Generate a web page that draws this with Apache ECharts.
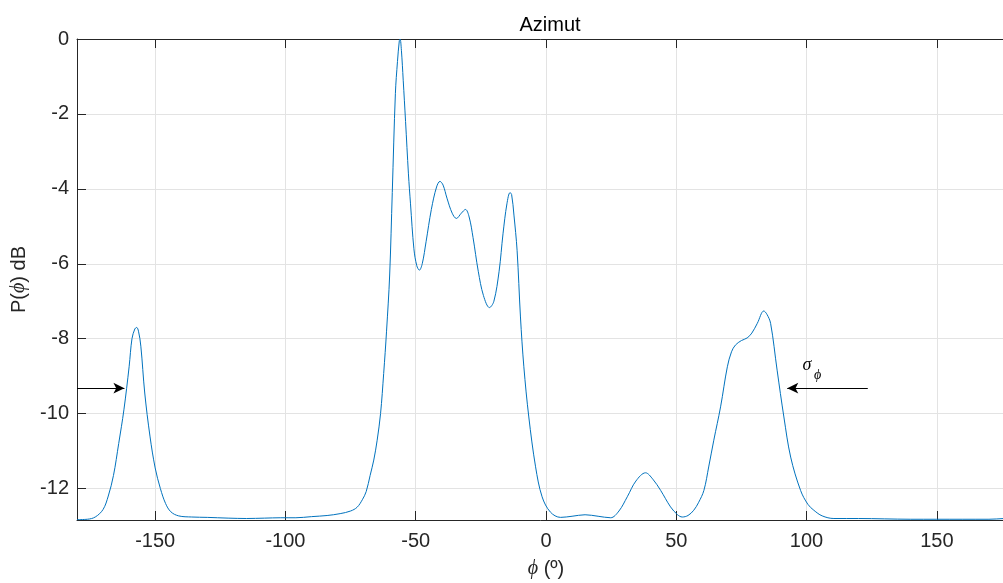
<!DOCTYPE html>
<html>
<head>
<meta charset="utf-8">
<script src="https://cdn.jsdelivr.net/npm/echarts@6/dist/echarts.min.js"></script>
<style>
  html, body { margin: 0; padding: 0; background: #fff; }
  #chart { width: 1003px; height: 583px; }
</style>
</head>
<body>
<div id="chart"></div>
<script>
// azimuth (deg) and power (dB)
var phi = [
  -180, -176, -173, -170, -168, -166, -164, -162, -160, -158.9, -157.8, -157.1, -156.4, -155.5,
  -154, -152, -150, -148, -146, -144, -141, -136, -130, -122, -115, -108, -102, -96, -90, -84,
  -79, -75, -72.5, -70.5, -69, -67.5, -66.1, -64.8, -63.5, -62.3, -61.2, -60, -59, -57.8, -57,
  -56.3, -56, -55.5, -54.8, -53.9, -52.8, -52, -50.7, -49.6, -48.6, -47.5, -46, -44, -42, -40.7,
  -39.5, -38, -36, -34.4, -32.5, -30.9, -29.5, -28, -26, -24, -21.7, -20, -18, -16.5, -15, -13.8,
  -13.2, -12.3, -11.1, -9.8, -8.5, -6.6, -4, -1.5, 1.7, 5.6, 10, 15, 20, 24.8, 28, 31.2, 34.5,
  38.2, 41, 44, 47.8, 50.5, 52.3, 54.5, 56.7, 58.5, 60.6, 62.5, 64.4, 67, 69.6, 71.2, 72.7, 75,
  77.2, 79, 81.1, 83.6, 84.8, 86.2, 88.7, 91.3, 93.9, 97.7, 100.5, 102.8, 106, 110.5, 120, 130,
  140, 150, 160, 170, 176, 180
];
var power = [
  -12.83, -12.82, -12.76, -12.56, -12.2, -11.65, -10.8, -9.9, -8.75, -8.0, -7.74, -7.70, -7.8, -8.2,
  -9.45, -10.6, -11.45, -12.0, -12.4, -12.62, -12.73, -12.76, -12.77, -12.79, -12.8, -12.79, -12.78, -12.78, -12.75, -12.72,
  -12.67, -12.6, -12.5, -12.3, -12.08, -11.65, -11.24, -10.71, -10.0, -8.93, -7.8, -6.3, -4.1, -1.45, -0.6,
  -0.05, 0, -0.3, -1.1, -2.2, -3.6, -4.4, -5.6, -6.05, -6.17, -6.0, -5.4, -4.55, -3.95, -3.8,
  -3.9, -4.25, -4.65, -4.79, -4.65, -4.55, -4.75, -5.3, -6.2, -6.85, -7.17, -7.0, -6.2, -5.2, -4.4, -4.1,
  -4.15, -4.7, -5.64, -7.42, -8.75, -10.09, -11.42, -12.22, -12.63, -12.77, -12.74, -12.7, -12.74, -12.78, -12.6, -12.22, -11.8,
  -11.58, -11.75, -12.05, -12.49, -12.7, -12.76, -12.72, -12.58, -12.38, -12.05, -11.4, -10.71, -9.82, -8.75, -8.35, -8.17, -8.05,
  -7.98, -7.85, -7.59, -7.26, -7.35, -7.59, -8.84, -10.09, -11.16, -12.05, -12.42, -12.58, -12.73, -12.8, -12.8, -12.81,
  -12.82, -12.82, -12.82, -12.82, -12.8, -12.79
];

var xTicks = [-150, -100, -50, 0, 50, 100, 150];
var yTicks = [0, -2, -4, -6, -8, -10, -12];

// spread arrows (sigma_phi) at the -9.32 dB level
var arrowLeft = [[-180, -9.32], [-161.8, -9.32]];
var arrowRight = [[123.5, -9.32], [92.6, -9.32]];
var sigmaPos = [100.1, -8.72];
var sigmaSubPos = [104.2, -8.99];

var chart = echarts.init(document.getElementById('chart'));

var axisColor = '#262626';
var gridColor = '#e3e3e3';
var serif = '"Liberation Serif", "DejaVu Serif", serif';
var sans = '"Liberation Sans", Arial, sans-serif';

var option = {
  animation: false,
  backgroundColor: '#fff',
  title: {
    text: 'Azimut',
    left: 545,
    top: 10,
    textAlign: 'center',
    textStyle: { fontFamily: sans, fontSize: 20, fontWeight: 'normal', color: '#000' }
  },
  // the axes box runs past the right edge of the picture (clipped, like the original)
  grid: { left: 77, top: 39, right: -12, bottom: 63, containLabel: false, outerBoundsMode: 'none' },
  xAxis: [
    {
      type: 'value',
      min: -180,
      max: 180,
      splitNumber: 7,
      name: '{i|ϕ} (º)',
      nameLocation: 'middle',
      nameGap: 39,
      nameTextStyle: {
        fontFamily: sans, fontSize: 20, color: axisColor, verticalAlign: 'top',
        rich: { i: { fontFamily: serif, fontStyle: 'italic', fontSize: 20, color: axisColor } }
      },
      axisLine: { show: true, onZero: false, lineStyle: { color: axisColor, width: 1 } },
      axisTick: { show: true, inside: true, length: 9, lineStyle: { color: axisColor } },
      axisLabel: {
        margin: 11,
        fontFamily: sans, fontSize: 20, color: axisColor,
        formatter: function (v) { return xTicks.indexOf(v) >= 0 ? String(v) : ''; }
      },
      splitLine: { show: true, lineStyle: { color: gridColor, width: 1 } }
    },
    {
      type: 'value',
      position: 'top',
      min: -180,
      max: 180,
      splitNumber: 7,
      axisLine: { show: true, onZero: false, lineStyle: { color: axisColor, width: 1 } },
      axisTick: { show: true, inside: true, length: 9, lineStyle: { color: axisColor } },
      axisLabel: { show: false },
      splitLine: { show: false }
    }
  ],
  yAxis: {
    type: 'value',
    min: -12.84,
    max: 0,
    splitNumber: 6,
    name: 'P({i|ϕ}) dB',
    nameLocation: 'middle',
    nameGap: 43,
    nameRotate: 90,
    nameTextStyle: {
      fontFamily: sans, fontSize: 20, color: axisColor,
      rich: { i: { fontFamily: serif, fontStyle: 'italic', fontSize: 20, color: axisColor } }
    },
    axisLine: { show: true, onZero: false, lineStyle: { color: axisColor, width: 1 } },
    axisTick: { show: true, inside: true, length: 9, lineStyle: { color: axisColor } },
    axisLabel: {
      margin: 8,
      fontFamily: sans, fontSize: 20, color: axisColor,
      formatter: function (v) { return yTicks.indexOf(v) >= 0 ? String(v) : ''; }
    },
    splitLine: { show: true, lineStyle: { color: gridColor, width: 1 } }
  },
  series: [
    {
      type: 'line',
      data: phi.map(function (x, i) { return [x, power[i]]; }),
      showSymbol: false,
      smooth: 0.35,
      lineStyle: { color: '#0072BD', width: 1 },
      markLine: {
        silent: true,
        symbol: ['none', 'arrow'],
        symbolSize: [8, 11],
        label: { show: false },
        lineStyle: { color: '#000', width: 1, type: 'solid' },
        data: [
          [{ coord: arrowLeft[0] }, { coord: arrowLeft[1] }],
          [{ coord: arrowRight[0] }, { coord: arrowRight[1] }]
        ]
      },
      markPoint: {
        silent: true,
        symbol: 'circle',
        symbolSize: 0,
        data: [
          { coord: sigmaPos, label: { show: true, position: 'inside', formatter: 'σ',
            fontFamily: serif, fontStyle: 'italic', fontSize: 18, color: '#000' } },
          { coord: sigmaSubPos, label: { show: true, position: 'inside', formatter: 'ϕ',
            fontFamily: serif, fontStyle: 'italic', fontSize: 14, color: '#000' } }
        ]
      }
    }
  ]
};

chart.setOption(option);
</script>
</body>
</html>
